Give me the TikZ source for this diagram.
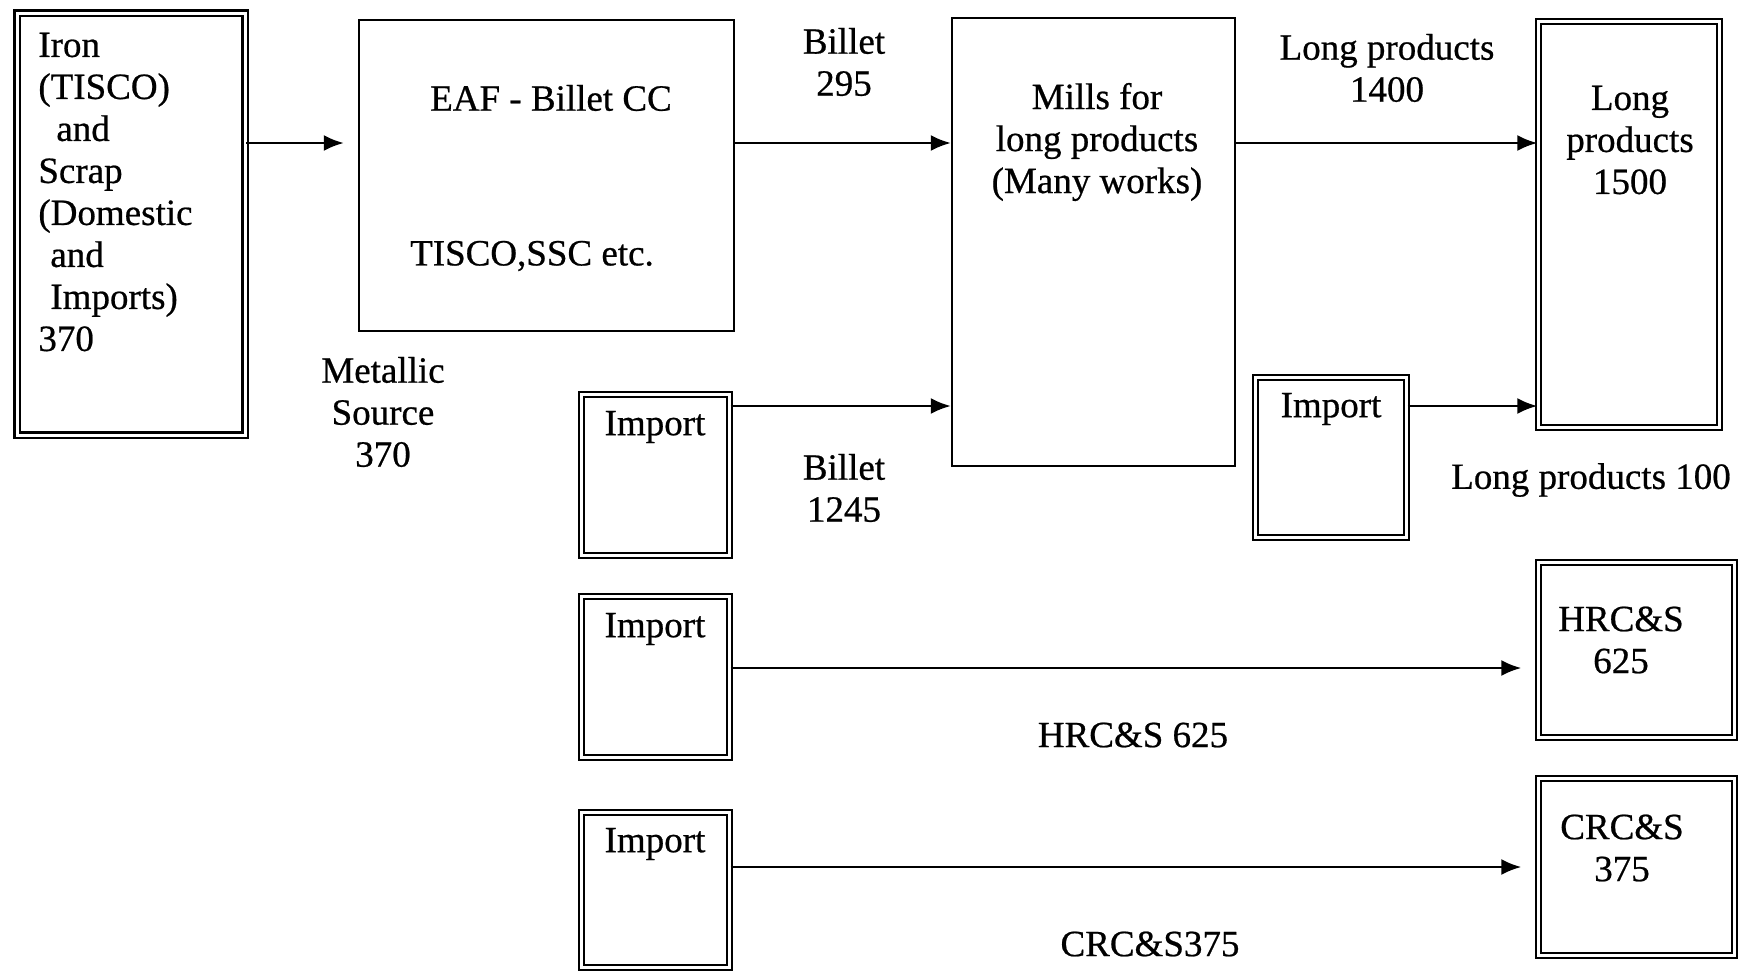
\documentclass[tikz,border=0pt]{standalone}
\usepackage{fontspec}
\setmainfont[FakeBold=0.6]{Liberation Serif}
\usetikzlibrary{arrows.meta}
\usetikzlibrary{calc}
\usetikzlibrary{positioning}

\begin{document}
\begin{tikzpicture}[x=0.5pt, y=-0.5pt, >={Latex[length=10pt,width=8pt]},
      box/.style={draw, line width=1.2pt, inner sep=0pt},
      dbox/.style={draw, double, line width=1.2pt, double distance=1.5pt, inner sep=0pt},
      arr/.style={->, line width=1.2pt},
      txt/.style={inner sep=0pt, align=center},
      every node/.style={font=\fontsize{18.5}{21}\selectfont}]
      \useasboundingbox (0,0) rectangle (1742,976);
      % Boxes
      \node[dbox, minimum width=114pt, minimum height=211pt] (iron) at (131,224) {};
      \node[box, minimum width=187.5pt, minimum height=155.5pt] (eaf) at (546.5,175.5) {};
      \node[box, minimum width=141.5pt, minimum height=224pt] (mills) at (1093.5,242) {};
      \node[dbox, minimum width=90.5pt, minimum height=203pt] (longp) at (1629,224.5) {};
      \node[dbox, minimum width=75.5pt, minimum height=80pt] (impm) at (1331,457.5) {};
      \node[dbox, minimum width=74pt, minimum height=80.5pt] (impa) at (655.5,475) {};
      \node[dbox, minimum width=74pt, minimum height=80.5pt] (impb) at (655.5,677) {};
      \node[dbox, minimum width=74pt, minimum height=77.5pt] (impc) at (655.5,890) {};
      \node[dbox, minimum width=98pt, minimum height=87.5pt] (hrc) at (1636.5,650) {};
      \node[dbox, minimum width=98pt, minimum height=88.5pt] (crc) at (1636.5,867) {};
      % Texts in the boxes
      \node[txt, anchor=west, align=left] (irontxt) at (38,192)
        {Iron\\(TISCO)\\\hspace{9pt}and\\Scrap\\(Domestic\\\hspace{6pt}and\\\hspace{6pt}Imports)\\370};
      \node[txt] (eaftxt) at (551,98) {EAF - Billet CC};
      \node[txt] (eafsub) at (532,256) {TISCO,SSC etc.};
      \node[txt] (millstxt) at (1097,142) {Mills for\\long products\\(Many works)};
      \node[txt] (longptxt) at (1630,140) {Long\\products\\1500};
      \node[txt] (impmtxt) at (1331,409) {Import};
      \node[txt] (impatxt) at (655,427) {Import};
      \node[txt] (impbtxt) at (655,629) {Import};
      \node[txt] (impctxt) at (655,844) {Import};
      \node[txt] (hrctxt) at (1621,640) {HRC\&S\\625};
      \node[txt] (crctxt) at (1622,848) {CRC\&S\\375};
      % Rows of the arrows
      \coordinate (rowa) at (0,143);
      \coordinate (rowb) at (0,406);
      \coordinate (rowc) at (0,668);
      \coordinate (rowd) at (0,867);
      % Arrows
      \draw[arr, shorten >=7pt] (iron.east |- rowa) -- (eaf.west |- rowa);
      \draw[arr] (eaf.east |- rowa) -- (mills.west |- rowa);
      \draw[arr] (mills.east |- rowa) -- (longp.west |- rowa);
      \draw[arr] (impa.east |- rowb) -- (mills.west |- rowb);
      \draw[arr] (impm.east |- rowb) -- (longp.west |- rowb);
      \draw[arr, shorten >=8pt] (impb.east |- rowc) -- (hrc.west |- rowc);
      \draw[arr, shorten >=8pt] (impc.east |- rowd) -- (crc.west |- rowd);
      % Labels of the arrows
      \node[txt] (billeta) at (844,62) {Billet\\295};
      \node[txt] (longa) at (1387,68) {Long products\\1400};
      \node[txt] (metal) at (383,412) {Metallic\\Source\\370};
      \node[txt] (billetb) at (844,488) {Billet\\1245};
      \node[txt] (longb) at (1591,480) {Long products 100};
      \node[txt] (hrclab) at (1133,735) {HRC\&S 625};
      \node[txt] (crclab) at (1150,944) {CRC\&S375};
    \end{tikzpicture}
\end{document}
